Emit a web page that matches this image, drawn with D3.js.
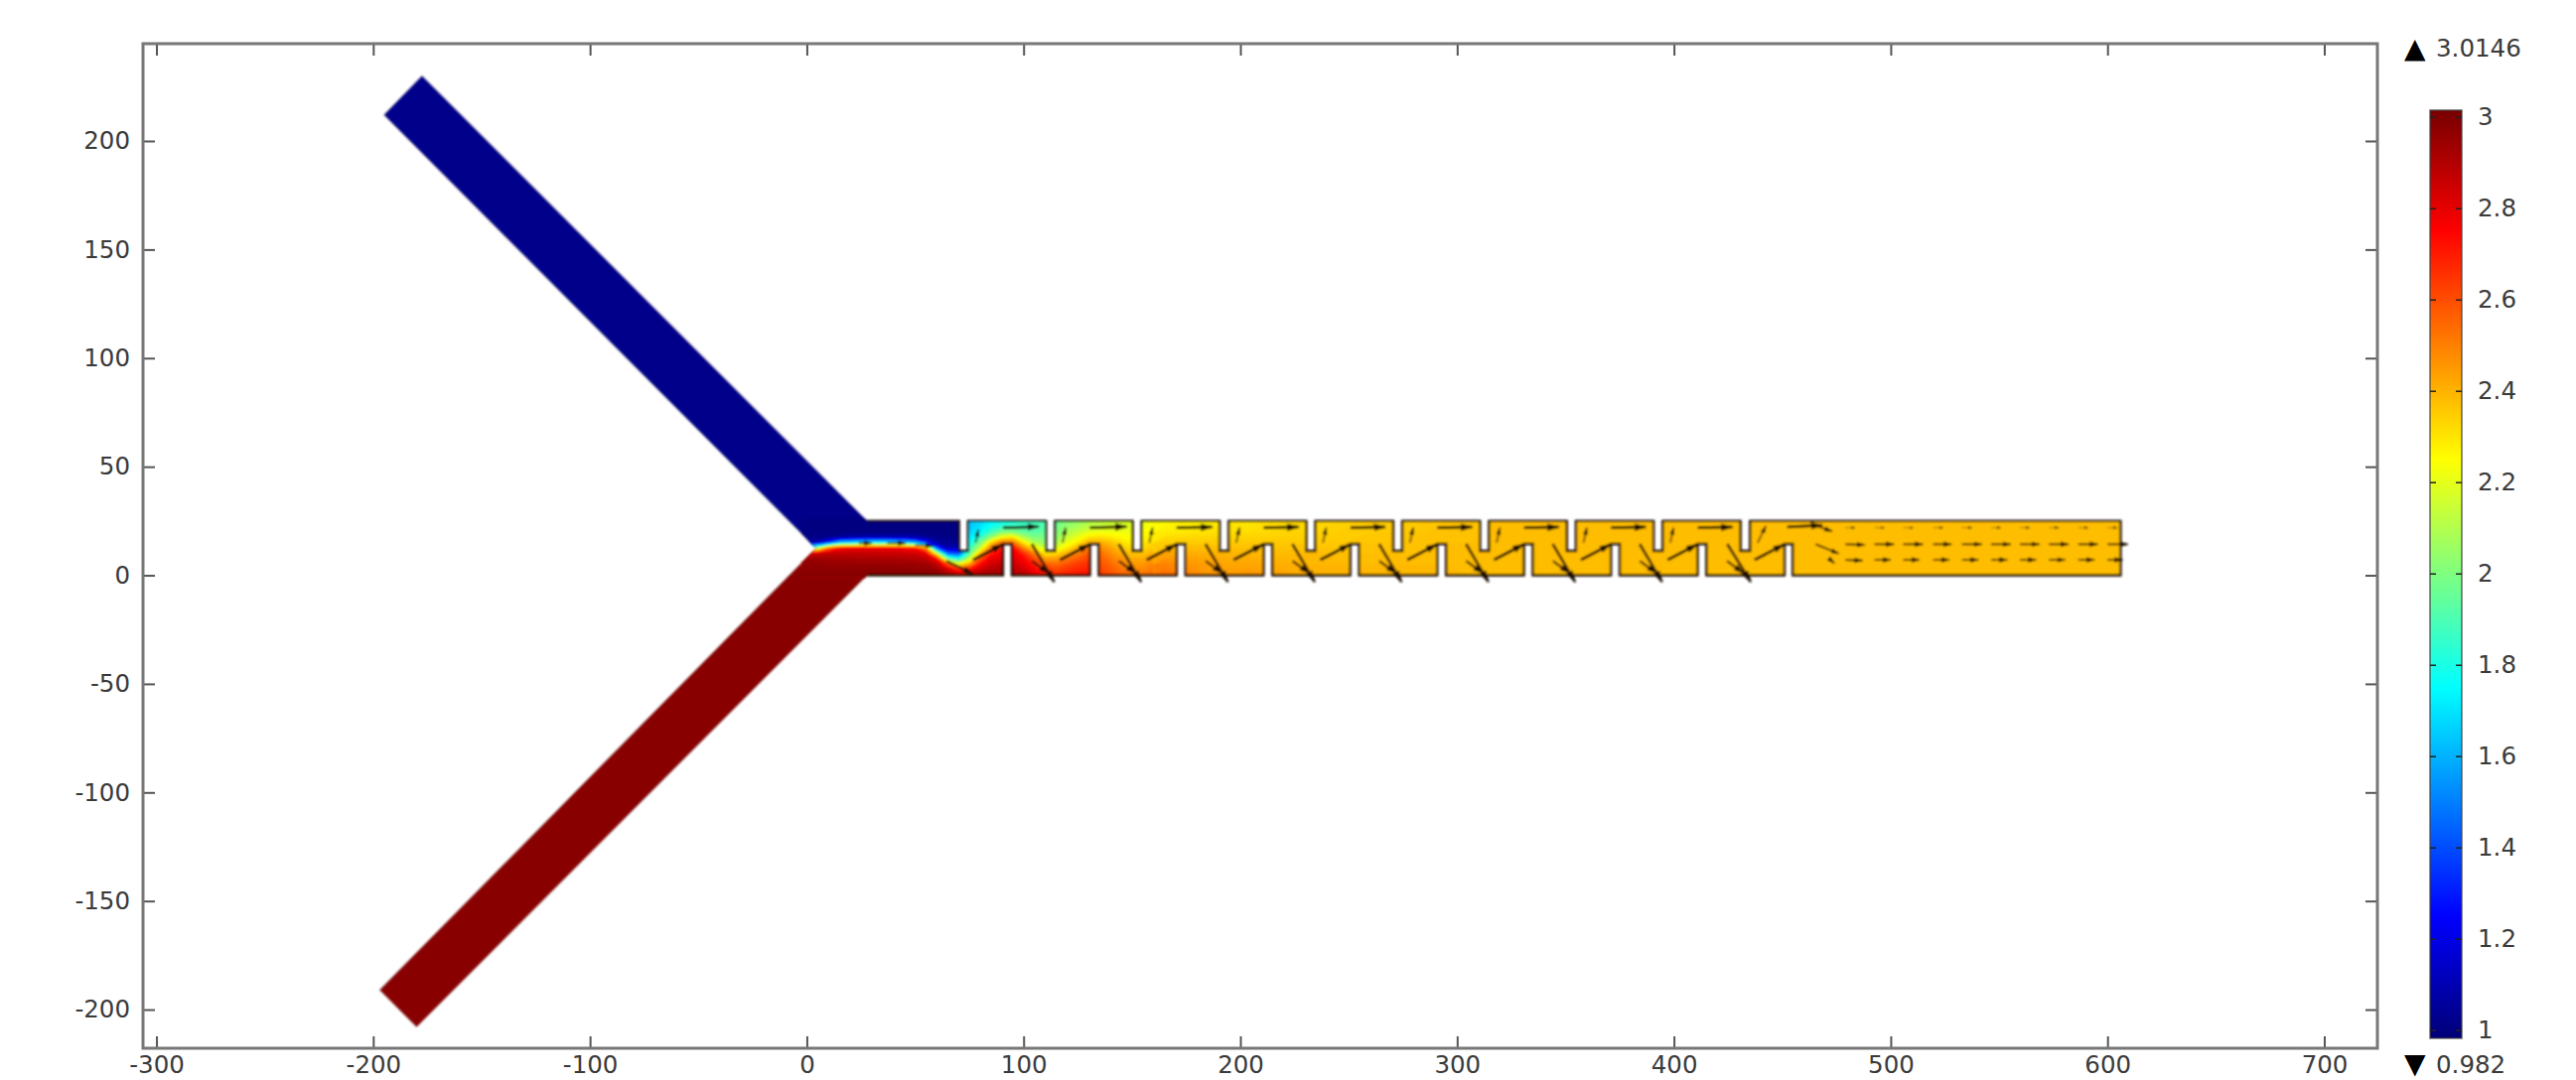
<!DOCTYPE html>
<html>
<head>
<meta charset="utf-8">
<style>
  body { margin: 0; background: #fff; }
  text { font-family: "DejaVu Sans", sans-serif; font-size: 24.5px; fill: #3a3a3a; }
</style>
<script src="https://cdn.jsdelivr.net/npm/d3@7"></script>
</head>
<body>
<div id="graphContainer"></div>
<script>
const xTicks = [-300, -200, -100, 0, 100, 200, 300, 400, 500, 600, 700];
const yTicks = [-200, -150, -100, -50, 0, 50, 100, 150, 200];
const colorbarTicks = [1, 1.2, 1.4, 1.6, 1.8, 2, 2.2, 2.4, 2.6, 2.8, 3];
const maxLabel = "3.0146";
const minLabel = "0.982";

const colorValues = [0.982, 1, 1.25, 1.75, 2.25, 2.75, 3.0146];
const colorNames = ["#000076", "#000080", "#0000ff", "#00ffff", "#ffff00", "#ff0000", "#770000"];

// geometry, in axis units
const blueArm = [[-195, 212], [-177.5, 230], [27.8, 25], [90, 25], [90, 0], [27.8, 0], [4.3, 12.5]];
const redArm = [[-197, -191], [-180, -208], [27.8, 0], [90, 0], [90, 12], [4.3, 12.5]];
const blueArmValue = 1.02;
const redArmValue = 2.98;
const tailValue = 2.38;
const channelTop = 25;
const channelBottom = 0;
const channelEnd = 606;
const topNotchLeft = [70.2, 110.3, 150.3, 190.4, 230.4, 270.5, 310.5, 350.6, 390.6, 430.7];
const topNotchRight = [74.4, 114.5, 154.5, 194.6, 234.6, 274.7, 314.7, 354.8, 394.8, 435.1];
const topNotchDepth = 11.2;
const bottomNotchLeft = [90.5, 130.6, 170.6, 210.7, 250.7, 290.8, 330.8, 370.9, 410.9, 451];
const bottomNotchRight = [94.6, 134.7, 174.7, 214.8, 254.8, 294.9, 334.9, 375, 415, 454.8];
const bottomNotchDepth = 14.4;

// near field: x = 0..160 every 5, each line y = 25..0 every 2.5
const nearX = d3.range(0, 165, 5);
const nearY = [25, 22.5, 20, 17.5, 15, 12.5, 10, 7.5, 5, 2.5, 0];
const nearField = [
  [1, 1, 1, 1.02, 1.08, 2, 2.85, 2.95, 2.97, 2.98, 2.98],
  [1, 1, 1, 1.02, 1.12, 2.1, 2.85, 2.95, 2.97, 2.98, 2.98],
  [1, 1, 1, 1.03, 1.35, 2.55, 2.88, 2.93, 2.96, 2.98, 2.98],
  [1, 1, 1, 1.06, 1.65, 2.75, 2.88, 2.93, 2.96, 2.98, 2.98],
  [1, 1, 1, 1.08, 1.7, 2.78, 2.88, 2.93, 2.96, 2.98, 2.98],
  [1, 1, 1, 1.1, 1.75, 2.78, 2.88, 2.92, 2.96, 2.98, 2.99],
  [1, 1, 1, 1.1, 1.78, 2.78, 2.87, 2.92, 2.96, 2.98, 2.99],
  [1, 1, 1, 1.1, 1.78, 2.78, 2.86, 2.92, 2.96, 2.98, 2.99],
  [1, 1, 1, 1.1, 1.75, 2.77, 2.86, 2.92, 2.95, 2.98, 2.99],
  [1, 1, 1, 1.1, 1.7, 2.75, 2.86, 2.91, 2.95, 2.98, 2.99],
  [1, 1, 1, 1.08, 1.6, 2.72, 2.85, 2.9, 2.95, 2.97, 2.99],
  [1, 1, 1, 1.05, 1.35, 2.45, 2.8, 2.88, 2.94, 2.97, 2.99],
  [1, 1, 1, 1.03, 1.08, 1.4, 2.2, 2.75, 2.88, 2.95, 2.98],
  [1, 1, 1, 1.02, 1.03, 1.1, 1.45, 2, 2.6, 2.85, 2.95],
  [1, 1, 1, 1.02, 1.05, 1.15, 1.4, 1.8, 2.25, 2.7, 2.9],
  [1.65, 1.65, 1.68, 1.72, 1.78, 1.85, 1.95, 2.15, 2.45, 2.75, 2.9],
  [1.68, 1.7, 1.75, 1.85, 2, 2.15, 2.4, 2.6, 2.75, 2.85, 2.95],
  [1.75, 1.78, 1.88, 2.05, 2.35, 2.55, 2.7, 2.8, 2.85, 2.9, 2.95],
  [1.78, 1.85, 2, 2.25, 2.55, 2.7, 2.78, 2.82, 2.88, 2.92, 2.95],
  [1.8, 1.9, 2, 2.3, 2.55, 2.75, 2.8, 2.82, 2.85, 2.88, 2.9],
  [1.85, 1.88, 1.95, 2.1, 2.3, 2.5, 2.68, 2.75, 2.8, 2.85, 2.9],
  [1.88, 1.9, 1.93, 2, 2.12, 2.3, 2.5, 2.62, 2.7, 2.76, 2.82],
  [1.9, 1.92, 1.95, 2, 2.05, 2.15, 2.3, 2.45, 2.58, 2.66, 2.72],
  [1.95, 1.98, 2, 2.03, 2.1, 2.2, 2.33, 2.45, 2.55, 2.62, 2.68],
  [2.02, 2.05, 2.1, 2.15, 2.22, 2.3, 2.42, 2.52, 2.6, 2.66, 2.7],
  [2.05, 2.08, 2.14, 2.22, 2.3, 2.42, 2.5, 2.58, 2.64, 2.68, 2.72],
  [2.1, 2.13, 2.2, 2.3, 2.42, 2.52, 2.58, 2.63, 2.67, 2.7, 2.72],
  [2.12, 2.15, 2.22, 2.32, 2.42, 2.5, 2.55, 2.58, 2.6, 2.62, 2.64],
  [2.14, 2.17, 2.22, 2.3, 2.38, 2.44, 2.48, 2.52, 2.55, 2.58, 2.6],
  [2.16, 2.18, 2.22, 2.27, 2.32, 2.37, 2.42, 2.47, 2.5, 2.53, 2.56],
  [2.18, 2.2, 2.22, 2.25, 2.28, 2.32, 2.37, 2.42, 2.46, 2.5, 2.53],
  [2.22, 2.23, 2.25, 2.27, 2.3, 2.33, 2.37, 2.42, 2.46, 2.49, 2.52],
  [2.24, 2.25, 2.27, 2.3, 2.33, 2.37, 2.42, 2.46, 2.5, 2.53, 2.55],
];

// far field: x = 165..315 every 10, each line y = 25..0 every 5
const farX = d3.range(165, 325, 10);
const farY = [25, 20, 15, 10, 5, 0];
const farField = [
  [2.26, 2.29, 2.35, 2.43, 2.5, 2.54],
  [2.28, 2.3, 2.36, 2.42, 2.47, 2.5],
  [2.28, 2.31, 2.36, 2.41, 2.44, 2.46],
  [2.3, 2.32, 2.36, 2.4, 2.43, 2.45],
  [2.3, 2.32, 2.36, 2.4, 2.43, 2.46],
  [2.32, 2.33, 2.36, 2.39, 2.42, 2.44],
  [2.33, 2.34, 2.36, 2.39, 2.41, 2.42],
  [2.33, 2.34, 2.36, 2.39, 2.4, 2.41],
  [2.34, 2.35, 2.36, 2.38, 2.4, 2.41],
  [2.35, 2.35, 2.37, 2.38, 2.39, 2.41],
  [2.35, 2.36, 2.37, 2.38, 2.39, 2.4],
  [2.36, 2.36, 2.37, 2.38, 2.39, 2.4],
  [2.36, 2.37, 2.37, 2.38, 2.39, 2.39],
  [2.37, 2.37, 2.38, 2.38, 2.39, 2.39],
  [2.37, 2.37, 2.38, 2.38, 2.38, 2.39],
  [2.38, 2.38, 2.38, 2.38, 2.38, 2.38],
];

// arrows as [x0, y0, x1, y1]
const topArrows = [
  [90.5, 21.9, 107, 22.4], [130.6, 21.9, 147.5, 22.4], [170.6, 21.9, 187, 22.2],
  [210.8, 21.9, 226.8, 22.2], [250.8, 21.9, 266.8, 22.2], [290.9, 21.9, 306.9, 22.2],
  [330.9, 21.9, 346.9, 22.2], [371, 21.9, 387, 22.2], [411, 21.9, 427, 22.2],
  [452.3, 22.2, 468.4, 23],
];
const risingArrows = [
  [76.7, 7.1, 90.5, 14.3], [116.8, 7.1, 130.6, 14.3], [156.8, 7.1, 170.6, 14.3],
  [196.9, 7.1, 210.7, 14.3], [236.9, 7.1, 250.7, 14.3], [277, 7.1, 290.8, 14.3],
  [317, 7.1, 330.8, 14.3], [357.1, 7.1, 370.9, 14.3], [397.1, 7.1, 410.9, 14.3],
  [437.2, 7.1, 451, 14.3],
];
const fallingArrows = [
  [103.8, 14.4, 114.1, -3], [143.9, 14.4, 154.2, -3], [183.9, 14.4, 194.2, -3],
  [224, 14.4, 234.3, -3], [264, 14.4, 274.3, -3], [304.1, 14.4, 314.4, -3],
  [344.1, 14.4, 354.4, -3], [384.2, 14.4, 394.5, -3], [424.6, 14.4, 435.4, -3],
];
const branchArrows = [
  [64.4, 6.6, 76.7, 0.7], [103.9, 6.6, 111.5, 1], [144, 6.6, 151.6, 1], [184, 6.6, 191.6, 1],
  [224.1, 6.6, 231.7, 1], [264.1, 6.6, 271.7, 1], [304.2, 6.6, 311.8, 1],
  [344.2, 6.6, 351.8, 1], [384.3, 6.6, 391.9, 1], [424.5, 6.6, 432, 1],
];
const smallArrows = [
  [77.8, 15, 79.3, 21.1], [118, 15, 119.4, 21.9], [158, 15, 159.5, 21.9], [198.1, 15, 199.6, 21.9],
  [238.1, 15, 239.6, 21.9], [278.2, 15, 279.7, 21.9], [318.2, 15, 319.7, 21.9],
  [358.3, 15, 359.8, 21.9], [398.3, 15, 399.8, 21.9], [438.6, 14.9, 442.4, 22.7],
];
const inletArrows = [
  [24, 14.8, 30, 14.8], [37, 14.8, 45.6, 14.8], [50, 14, 58.4, 13.5],
  [464.6, 23, 473, 20.3], [465.4, 14.3, 476, 10], [473, 6.4, 474, 5.5],
];
const tailArrows = [
  [479.1, 14.3, 488, 14], [492.5, 14.3, 501.5, 14.3], [505.8, 14.3, 514.8, 14.3],
  [519.6, 14.3, 528, 14.3], [532.9, 14.3, 542, 14.3], [546.3, 14.3, 555.3, 14.3],
  [559.6, 14.3, 568.6, 14.3], [573, 14.3, 582, 14.3], [586.5, 14.3, 595.5, 14.3],
  [600, 14.3, 609.3, 14.3],
  [479.1, 7.1, 487, 6.8], [492.5, 7.1, 500, 7.1], [505.8, 7.1, 513.3, 7.1],
  [519.6, 7.1, 527, 7.1], [532.9, 7.1, 540.4, 7.1], [546.3, 7.1, 553.8, 7.1],
  [559.6, 7.1, 567.1, 7.1], [573, 7.1, 580.5, 7.1], [586.5, 7.1, 594, 7.1],
  [600, 7.1, 607, 7.1],
];
const faintArrows = [
  [479.1, 21.9, 483.7, 21.9], [492.5, 21.9, 497.1, 21.9], [505.8, 21.9, 510.4, 21.9],
  [519.6, 21.9, 524.2, 21.9], [532.9, 21.9, 537.5, 21.9], [546.3, 21.9, 550.9, 21.9],
  [559.6, 21.9, 564.2, 21.9], [573, 21.9, 577.6, 21.9], [586.5, 21.9, 591.1, 21.9],
  [600, 21.9, 604.6, 21.9],
];

const svg = d3
  .select("#graphContainer")
  .append("svg")
  .attr("width", 2594)
  .attr("height", 1088)
  .style("display", "block");

const xScale = d3.scaleLinear().domain([-306.2, 724.5]).range([144, 2394]);
const yScale = d3.scaleLinear().domain([-217.8, 244.8]).range([1056, 44]);
const barScale = d3.scaleLinear().domain([0.982, 3.0146]).range([1046, 111]);
const colorScale = d3.scaleLinear().domain(colorValues).range(colorNames);

const defs = svg.append("defs");

defs
  .append("filter")
  .attr("id", "soft")
  .attr("x", "-2%")
  .attr("y", "-2%")
  .attr("width", "104%")
  .attr("height", "104%")
  .append("feGaussianBlur")
  .attr("stdDeviation", 0.8);

defs
  .append("marker")
  .attr("id", "head")
  .attr("viewBox", "0 0 10 6")
  .attr("refX", 9)
  .attr("refY", 3)
  .attr("markerWidth", 4.5)
  .attr("markerHeight", 3)
  .attr("orient", "auto")
  .append("path")
  .attr("d", "M0,0L10,3L0,6Z")
  .attr("fill", "#1a0d00");

const barGradient = defs
  .append("linearGradient")
  .attr("id", "barGradient")
  .attr("x1", 0)
  .attr("x2", 0)
  .attr("y1", 1)
  .attr("y2", 0);

barGradient
  .selectAll("stop")
  .data(colorValues)
  .enter()
  .append("stop")
  .attr("offset", (d) => (d - 0.982) / (3.0146 - 0.982))
  .attr("stop-color", (d) => colorScale(d));

// closed outline of the whole device, notches included
const topEdge = [];
topNotchLeft.forEach((left, i) => {
  topEdge.push([left, channelTop], [left, topNotchDepth]);
  topEdge.push([topNotchRight[i], topNotchDepth], [topNotchRight[i], channelTop]);
});
const bottomEdge = [];
bottomNotchLeft.forEach((left, i) => {
  bottomEdge.push([left, channelBottom], [left, bottomNotchDepth]);
  bottomEdge.push([bottomNotchRight[i], bottomNotchDepth], [bottomNotchRight[i], channelBottom]);
});
bottomEdge.reverse();

const channelEdge = [
  [27.8, channelTop],
  ...topEdge,
  [channelEnd, channelTop],
  [channelEnd, channelBottom],
  ...bottomEdge,
  [27.8, channelBottom],
];

const outline = [
  [-195, 212],
  [-177.5, 230],
  ...channelEdge,
  [-180, -208],
  [-197, -191],
  [4.3, 12.5],
];

const line = d3
  .line()
  .x((d) => xScale(d[0]))
  .y((d) => yScale(d[1]));

defs
  .append("clipPath")
  .attr("id", "deviceClip")
  .append("path")
  .attr("d", line(outline) + "Z");

const plot = svg.append("g").attr("filter", "url(#soft)");
const device = plot.append("g").attr("clip-path", "url(#deviceClip)");

device
  .append("path")
  .attr("d", line(blueArm) + "Z")
  .attr("fill", colorScale(blueArmValue));

device
  .append("path")
  .attr("d", line(redArm) + "Z")
  .attr("fill", colorScale(redArmValue));

device
  .append("rect")
  .attr("x", xScale(150))
  .attr("y", yScale(channelTop))
  .attr("width", xScale(channelEnd) - xScale(150))
  .attr("height", yScale(channelBottom) - yScale(channelTop))
  .attr("fill", colorScale(tailValue));

const thresholds = d3.range(0.98, 3.02, 0.01);

function drawField(columns, xs, ys) {
  const values = d3.merge(d3.transpose(columns));
  const stepX = xs[1] - xs[0];
  const stepY = ys[1] - ys[0];
  const contours = d3
    .contours()
    .size([xs.length, ys.length])
    .thresholds(thresholds)(values);
  const toScreen = d3.geoTransform({
    point(gx, gy) {
      this.stream.point(
        xScale(xs[0] + (gx - 0.5) * stepX),
        yScale(ys[0] + (gy - 0.5) * stepY)
      );
    },
  });
  device
    .append("g")
    .selectAll("path")
    .data(contours)
    .enter()
    .append("path")
    .attr("d", d3.geoPath(toScreen))
    .attr("fill", (d) => colorScale(d.value));
}

drawField(nearField, nearX, nearY);
drawField(farField, farX, farY);

// the arms only have a faint edge, the channel a heavier one
plot
  .append("path")
  .attr("d", line(outline) + "Z")
  .attr("fill", "none")
  .attr("stroke", "#1c1008")
  .attr("stroke-opacity", 0.45)
  .attr("stroke-width", 1);

plot
  .append("path")
  .attr("d", line(channelEdge))
  .attr("fill", "none")
  .attr("stroke", "#1c1008")
  .attr("stroke-width", 2.4);

function drawArrows(rows, width, color, opacity) {
  plot
    .append("g")
    .selectAll("line")
    .data(rows)
    .enter()
    .append("line")
    .attr("x1", (d) => xScale(d[0]))
    .attr("y1", (d) => yScale(d[1]))
    .attr("x2", (d) => xScale(d[2]))
    .attr("y2", (d) => yScale(d[3]))
    .attr("stroke", color)
    .attr("stroke-width", width)
    .attr("stroke-opacity", opacity)
    .attr("marker-end", "url(#head)");
}

drawArrows(topArrows, 2.8, "#1a0d00", 1);
drawArrows(risingArrows, 2.8, "#1a0d00", 1);
drawArrows(fallingArrows, 2.8, "#2a1500", 0.9);
drawArrows(branchArrows, 2.4, "#2a1500", 0.9);
drawArrows(smallArrows, 1.8, "#3a2000", 0.75);
drawArrows(inletArrows, 1.9, "#2a1500", 0.8);
drawArrows(tailArrows, 2, "#2a1500", 0.85);
drawArrows(faintArrows, 1, "#5a3a00", 0.55);

// frame and ticks, all four sides tick inwards
function styleAxis(g) {
  g.select(".domain").remove();
  g.selectAll(".tick line").attr("stroke", "#555").attr("stroke-width", 2);
}

// labels sit a little higher than the reference so they are not cut by the page edge
svg
  .append("g")
  .attr("transform", "translate(0,1056)")
  .call(d3.axisBottom(xScale).tickValues(xTicks).tickSize(-12).tickPadding(8).tickFormat((d) => String(d)))
  .call(styleAxis);

svg
  .append("g")
  .attr("transform", "translate(0,44)")
  .call(d3.axisTop(xScale).tickValues(xTicks).tickSize(-12).tickFormat(""))
  .call(styleAxis);

svg
  .append("g")
  .attr("transform", "translate(144,0)")
  .call(d3.axisLeft(yScale).tickValues(yTicks).tickSize(-12).tickPadding(13).tickFormat((d) => String(d)))
  .call(styleAxis);

svg
  .append("g")
  .attr("transform", "translate(2394,0)")
  .call(d3.axisRight(yScale).tickValues(yTicks).tickSize(-12).tickFormat(""))
  .call(styleAxis);

svg
  .append("rect")
  .attr("x", xScale.range()[0])
  .attr("y", yScale.range()[1])
  .attr("width", xScale.range()[1] - xScale.range()[0])
  .attr("height", yScale.range()[0] - yScale.range()[1])
  .attr("fill", "none")
  .attr("stroke", "#777")
  .attr("stroke-width", 3);

// colour bar
const barLeft = 2447;
const barRight = 2479;

svg
  .append("rect")
  .attr("x", barLeft)
  .attr("y", barScale(3.0146))
  .attr("width", barRight - barLeft)
  .attr("height", barScale(0.982) - barScale(3.0146))
  .attr("fill", "url(#barGradient)")
  .attr("stroke", "#444")
  .attr("stroke-opacity", 0.8)
  .attr("stroke-width", 1.5);

svg
  .append("g")
  .attr("transform", `translate(${barRight},0)`)
  .call(d3.axisRight(barScale).tickValues(colorbarTicks).tickSize(-6).tickPadding(16).tickFormat((d) => String(d)))
  .call((g) => g.select(".domain").remove())
  .call((g) => g.selectAll(".tick line").attr("stroke", "#222").attr("stroke-width", 1.5));

svg
  .append("g")
  .attr("transform", `translate(${barLeft},0)`)
  .call(d3.axisLeft(barScale).tickValues(colorbarTicks).tickSize(-6).tickFormat(""))
  .call((g) => g.select(".domain").remove())
  .call((g) => g.selectAll(".tick line").attr("stroke", "#222").attr("stroke-width", 1.5));

svg.append("text").attr("x", 2421).attr("y", 58).style("font-size", "28px").style("fill", "#000").text("▲");
svg.append("text").attr("x", 2453).attr("y", 57).text(maxLabel);
svg.append("text").attr("x", 2421).attr("y", 1081).style("font-size", "28px").style("fill", "#000").text("▼");
svg.append("text").attr("x", 2453).attr("y", 1081).text(minLabel);
</script>
</body>
</html>
